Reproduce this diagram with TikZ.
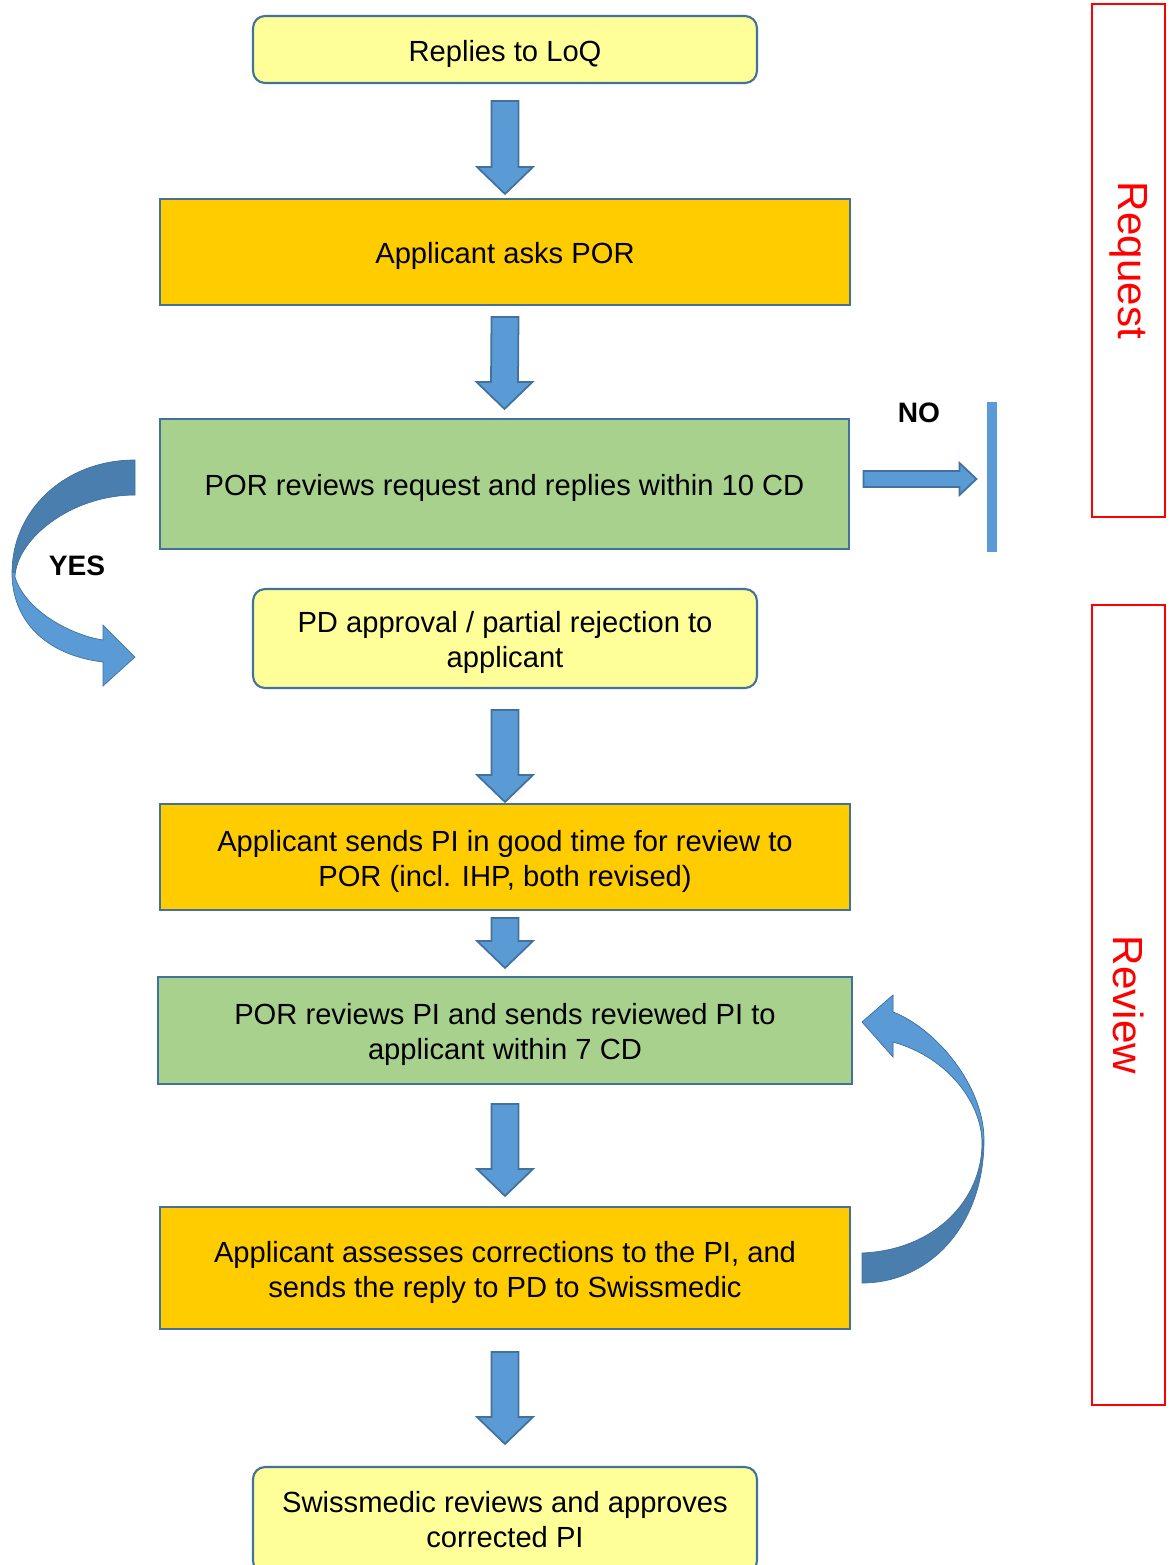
\documentclass[tikz,border=0pt]{standalone}
\usepackage{fontspec}
\setmainfont{Liberation Sans}
\usepackage{tikz}
\usetikzlibrary{calc}

\definecolor{boxyellow}{HTML}{FFFF99}
\definecolor{boxorange}{HTML}{FFCC00}
\definecolor{boxgreen}{HTML}{A9D18E}
\definecolor{boxline}{HTML}{41719C}
\definecolor{arrowblue}{HTML}{5B9BD5}
\definecolor{arrowdark}{HTML}{4A7EAE}

% strut on the first line, lowers the text a bit in its box
\newcommand{\textlift}{\rule{0pt}{17pt}}

\tikzset{
  flowbox/.style={draw=boxline,line width=1.2pt,align=center,inner sep=0pt,
    minimum width=13.8cm,font=\fontsize{16.6pt}{19.9pt}\selectfont},
  roundbox/.style={flowbox,fill=boxyellow,rounded corners=0.24cm,minimum width=10.08cm},
  orangebox/.style={flowbox,fill=boxorange},
  greenbox/.style={flowbox,fill=boxgreen},
  sidebox/.style={draw=red,line width=1.6pt,rotate=-90,inner sep=0pt,minimum height=1.46cm,
    text=red,font=\fontsize{24pt}{28pt}\selectfont},
  answer/.style={font=\bfseries\fontsize{16pt}{19pt}\selectfont},
  blockarr/.style={fill=arrowblue,draw=boxline,line width=1pt}
}

% down block arrow: from, to, gap below #1, gap above #2 (px)
\newcommand{\blockdown}[4]{%
  \draw[blockarr] ($(#1.south)+(-13.5,#3)$) -- ($(#1.south)+(13.5,#3)$)
    -- ($(#2.north)+(13.5,-#4-27)$) -- ($(#2.north)+(28,-#4-27)$)
    -- ($(#2.north)+(0,-#4)$) -- ($(#2.north)+(-28,-#4-27)$)
    -- ($(#2.north)+(-13.5,-#4-27)$) -- cycle;}

\begin{document}
\begin{tikzpicture}[x=0.02cm,y=-0.02cm]
  \useasboundingbox (0,0) rectangle (1171,1565);

  % main flow
  \node[roundbox,minimum height=1.34cm] (replies) at (505,49.5) {\textlift Replies to LoQ};
  \node[orangebox,minimum height=2.12cm] (asks) at (505,252) {\textlift Applicant asks POR};
  \node[greenbox,minimum height=2.6cm] (porreq) at (504.5,484) {\textlift POR reviews request and replies within 10 CD};
  \node[roundbox,minimum height=1.98cm] (pdappr) at (505,638.5) {\textlift PD approval / partial rejection to\\applicant};
  \node[orangebox,minimum height=2.12cm] (sendpi) at (505,857) {\textlift Applicant sends PI in good time for review to\\POR (incl. IHP, both revised)};
  \node[greenbox,minimum height=2.14cm,minimum width=13.88cm] (porpi) at (505,1030.5) {\textlift POR reviews PI and sends reviewed PI to\\applicant within 7 CD};
  \node[orangebox,minimum height=2.44cm] (assess) at (505,1268) {\textlift Applicant assesses corrections to the PI, and\\sends the reply to PD to Swissmedic};
  \node[roundbox,minimum height=2.12cm] (swiss) at (505,1520) {Swissmedic reviews and approves\\corrected PI};

  \blockdown{replies}{asks}{17}{4}
  \blockdown{asks}{porreq}{11}{9}
  \blockdown{pdappr}{sendpi}{21}{1}
  \blockdown{sendpi}{porpi}{7}{8}
  \blockdown{porpi}{assess}{19}{10}
  \blockdown{assess}{swiss}{22}{22}

  % NO branch
  \node[answer] (no) at (919,413) {NO};
  \node[fill=arrowblue,inner sep=0pt,minimum width=0.21cm,minimum height=3cm] (stopbar) at (992,477) {};
  \draw[blockarr] ($(porreq.east)+(13,-13)$) -- ++(96,0) -- ++(0,-8) -- ++(17,16)
    -- ++(-17,16) -- ++(0,-8) -- ++(-96,0) -- cycle;

  % YES branch
  \node[answer] (yes) at (77,566) {YES};
  \path[draw=boxline,line width=0.4pt,fill=arrowblue,
    path picture={\fill[arrowdark] (path picture bounding box.north west) rectangle (path picture bounding box.east);}]
    (135,460) .. controls (65,460) and (12,510) .. (12,573)
    .. controls (12,620) and (45,655) .. (103,662)
    -- (103,686) -- (135,657) -- (103,625) -- (103,640)
    .. controls (70,635) and (25,610) .. (15,577)
    .. controls (16,540) and (70,495) .. (135,495) -- cycle;

  % loop back to review
  \path[draw=boxline,line width=0.4pt,fill=arrowdark,
    path picture={\fill[arrowblue] (path picture bounding box.north west) rectangle (path picture bounding box.east);}]
    (862,1253) .. controls (935,1250) and (982,1200) .. (982,1143)
    .. controls (982,1105) and (950,1058) .. (893,1042)
    -- (893,1057) -- (862,1022) -- (893,995) -- (893,1012)
    .. controls (935,1028) and (984,1085) .. (984,1140)
    .. controls (984,1225) and (930,1283) .. (862,1283) -- cycle;

  % phases
  \node[sidebox,minimum width=10.26cm] (request) at (1128.5,260.5) {Request};
  \node[sidebox,minimum width=16cm] (review) at (1128.5,1005) {Review};
\end{tikzpicture}
\end{document}
